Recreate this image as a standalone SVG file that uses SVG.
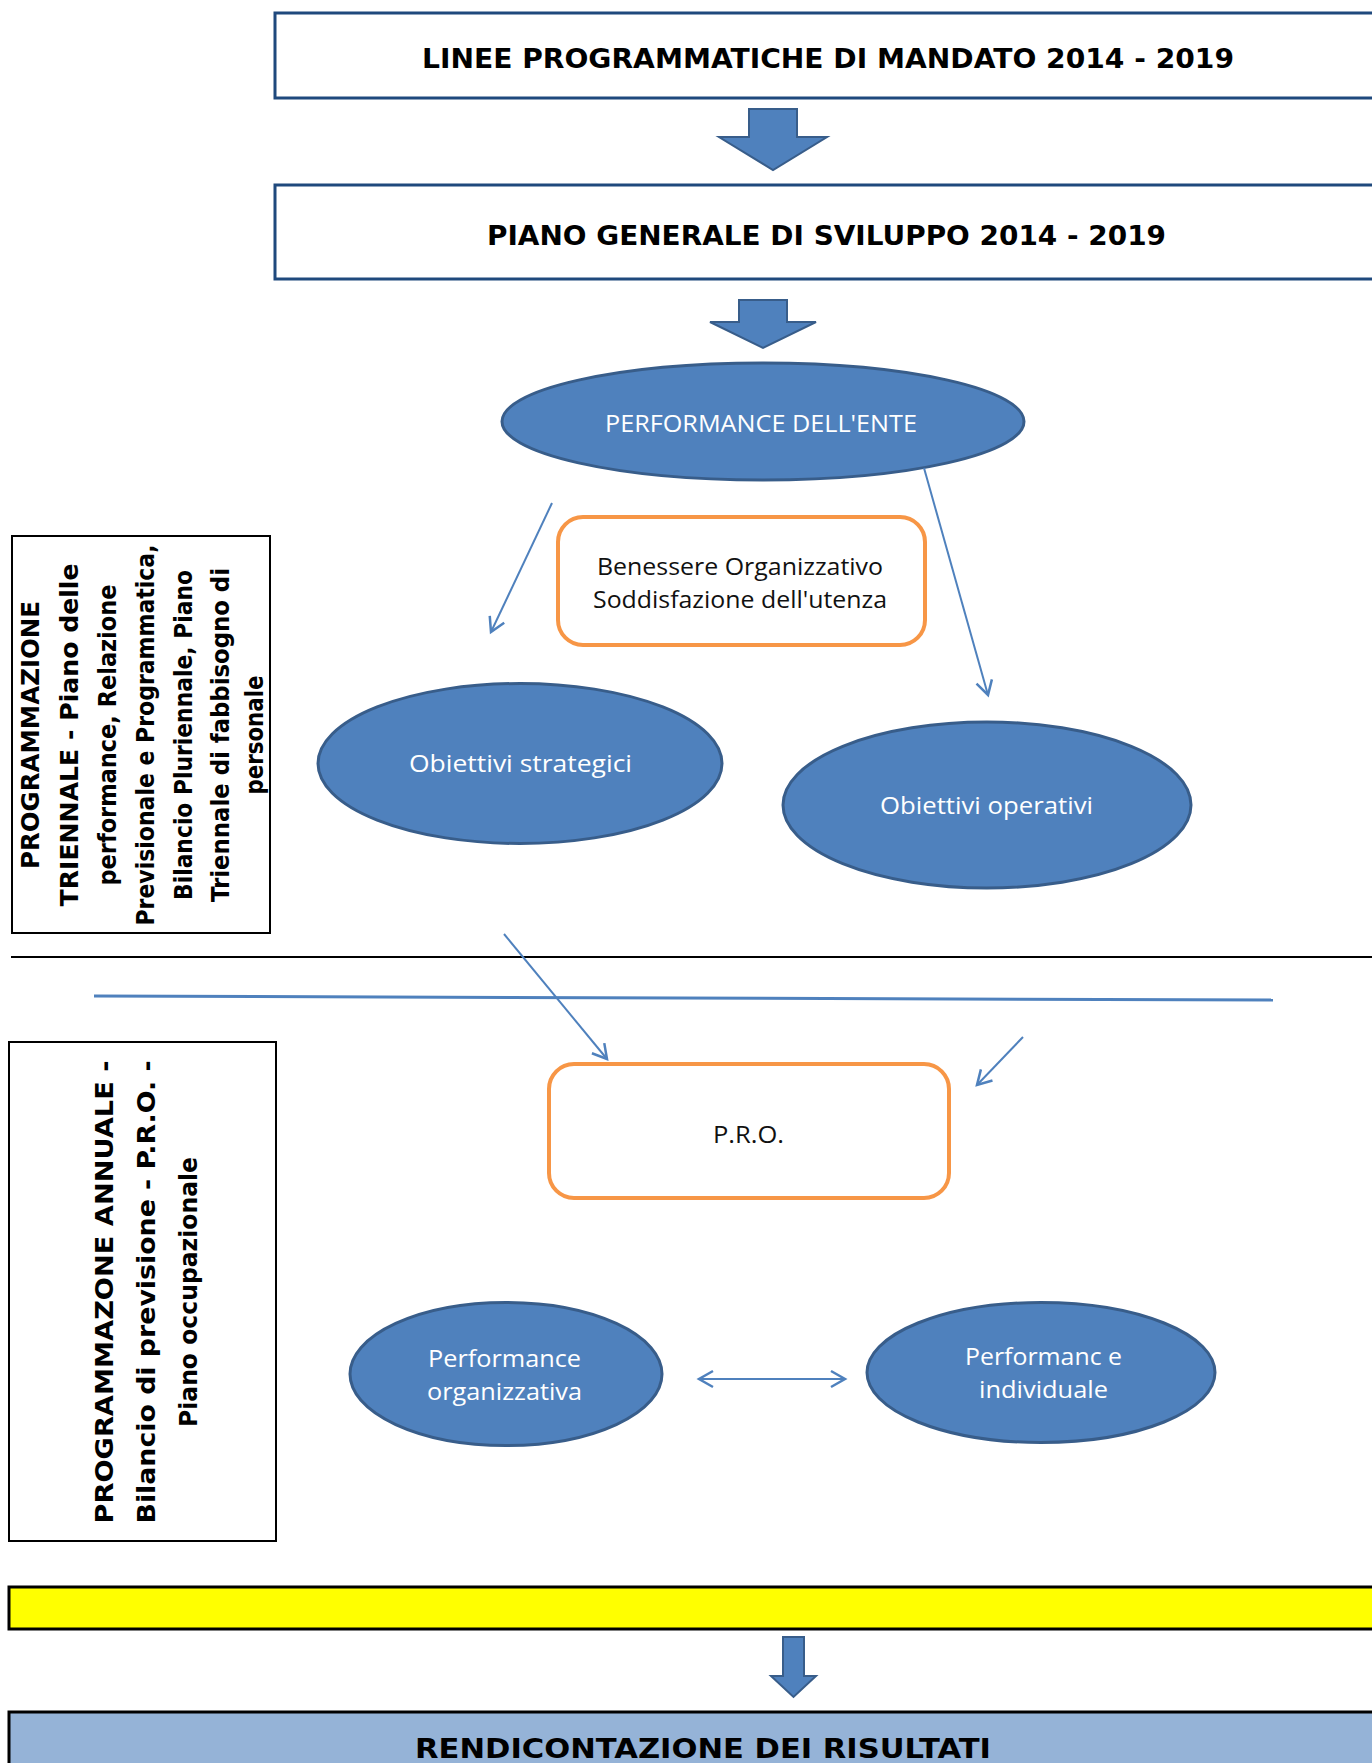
<svg xmlns="http://www.w3.org/2000/svg" width="1372" height="1763" viewBox="0 0 1372 1763">
<style>
.hdr{font-family:"DejaVu Sans","Liberation Sans",sans-serif;font-weight:bold;font-size:26px;fill:#000}
.side{font-family:"DejaVu Sans","Liberation Sans",sans-serif;font-weight:bold;font-size:24px;fill:#000}
.lbl{font-family:"Open Sans","Liberation Sans",sans-serif;font-size:24px;fill:#fff}
.dark{font-family:"Open Sans","Liberation Sans",sans-serif;font-size:24px;fill:#111}
.ell{fill:#4F81BD;stroke:#385D8A;stroke-width:3}
.blk{fill:#4F81BD;stroke:#385D8A;stroke-width:2}
.org{fill:#fff;stroke:#F79646;stroke-width:4}
.conn{fill:none;stroke:#4F81BD;stroke-width:2}
</style>
<defs>
<marker id="ah" markerUnits="userSpaceOnUse" markerWidth="30" markerHeight="30" refX="15" refY="15" orient="auto-start-reverse" viewBox="0 0 30 30">
<path d="M1,7 L15,15 L1,23" fill="none" stroke="#4F81BD" stroke-width="2.5"/>
</marker>
</defs>
<rect width="1372" height="1763" fill="#fff"/>

<g id="box-linee">
<rect x="275" y="13" width="1120" height="85" fill="#fff" stroke="#1F497D" stroke-width="3"/>
<text class="hdr" x="422" y="68" textLength="812" lengthAdjust="spacingAndGlyphs">LINEE PROGRAMMATICHE DI MANDATO 2014 - 2019</text>
</g>
<g id="box-piano">
<rect x="275" y="185" width="1120" height="94" fill="#fff" stroke="#1F497D" stroke-width="3"/>
<text class="hdr" x="487" y="245" textLength="679" lengthAdjust="spacingAndGlyphs">PIANO GENERALE DI SVILUPPO 2014 - 2019</text>
</g>

<g id="ell-ente">
<ellipse class="ell" cx="763" cy="421.5" rx="261" ry="58.5"/>
<text class="lbl" x="605" y="432" textLength="312" lengthAdjust="spacingAndGlyphs">PERFORMANCE DELL'ENTE</text>
</g>
<g id="box-benessere">
<rect class="org" x="558" y="517" width="367" height="128" rx="25"/>
<text class="dark" x="597" y="575" textLength="286" lengthAdjust="spacingAndGlyphs">Benessere Organizzativo</text>
<text class="dark" x="593" y="608" textLength="294" lengthAdjust="spacingAndGlyphs">Soddisfazione dell'utenza</text>
</g>
<g id="ell-strategici">
<ellipse class="ell" cx="520" cy="763.5" rx="202" ry="80"/>
<text class="lbl" x="409" y="772" textLength="223" lengthAdjust="spacingAndGlyphs">Obiettivi  strategici</text>
</g>
<g id="ell-operativi">
<ellipse class="ell" cx="987" cy="805" rx="204" ry="83"/>
<text class="lbl" x="880" y="814" textLength="213" lengthAdjust="spacingAndGlyphs">Obiettivi operativi</text>
</g>

<g id="box-triennale">
<rect x="12" y="536" width="258" height="397" fill="#fff" stroke="#000" stroke-width="2"/>
<g class="side" text-anchor="middle">
<text transform="translate(39,735) rotate(-90)" textLength="268" lengthAdjust="spacingAndGlyphs">PROGRAMMAZIONE</text>
<text transform="translate(78,735) rotate(-90)" textLength="343" lengthAdjust="spacingAndGlyphs">TRIENNALE  - Piano delle</text>
<text transform="translate(116,735) rotate(-90)" textLength="301" lengthAdjust="spacingAndGlyphs">performance, Relazione</text>
<text transform="translate(154,735) rotate(-90)" textLength="381" lengthAdjust="spacingAndGlyphs">Previsionale e Programmatica,</text>
<text transform="translate(192,735) rotate(-90)" textLength="330" lengthAdjust="spacingAndGlyphs">Bilancio Pluriennale, Piano</text>
<text transform="translate(229,735) rotate(-90)" textLength="334" lengthAdjust="spacingAndGlyphs">Triennale di fabbisogno di</text>
<text transform="translate(263,735) rotate(-90)" textLength="119" lengthAdjust="spacingAndGlyphs">personale</text>
</g>
</g>

<g id="box-pro">
<rect class="org" x="549" y="1064" width="400" height="134" rx="25"/>
<text class="dark" x="713" y="1143" textLength="71" lengthAdjust="spacingAndGlyphs">P.R.O.</text>
</g>

<g id="box-annuale">
<rect x="9" y="1042" width="267" height="499" fill="#fff" stroke="#000" stroke-width="2"/>
<g class="side" text-anchor="middle">
<text transform="translate(113,1292) rotate(-90)" textLength="463" lengthAdjust="spacingAndGlyphs">PROGRAMMAZONE ANNUALE -</text>
<text transform="translate(155,1292) rotate(-90)" textLength="463" lengthAdjust="spacingAndGlyphs">Bilancio di previsione - P.R.O. -</text>
<text transform="translate(197,1292) rotate(-90)" textLength="270" lengthAdjust="spacingAndGlyphs">Piano occupazionale</text>
</g>
</g>

<g id="ell-organizzativa">
<ellipse class="ell" cx="506" cy="1374" rx="156" ry="71.5"/>
<text class="lbl" x="428" y="1367" textLength="153" lengthAdjust="spacingAndGlyphs">Performance</text>
<text class="lbl" x="427" y="1400" textLength="155" lengthAdjust="spacingAndGlyphs">organizzativa</text>
</g>
<g id="ell-individuale">
<ellipse class="ell" cx="1041" cy="1372.5" rx="174" ry="70"/>
<text class="lbl" x="965" y="1365" textLength="157" lengthAdjust="spacingAndGlyphs">Performanc e</text>
<text class="lbl" x="979" y="1398" textLength="129" lengthAdjust="spacingAndGlyphs">individuale</text>
</g>

<g id="bar-yellow">
<rect x="9" y="1587" width="1390" height="42" fill="#FFFF00" stroke="#000" stroke-width="3"/>
</g>
<g id="box-rendicontazione">
<rect x="9" y="1712" width="1390" height="100" fill="#95B3D7" stroke="#000" stroke-width="3"/>
<text class="hdr" x="415" y="1758" textLength="576" lengthAdjust="spacingAndGlyphs">RENDICONTAZIONE DEI RISULTATI</text>
</g>

<g id="connectors">
<polygon class="blk" points="749,109 797,109 797,137 827,137 773,170 719,137 749,137"/>
<polygon class="blk" points="739,300 787,300 787,322 816,322 763,348 710,322 739,322"/>
<polygon class="blk" points="783,1637 804,1637 804,1676 816,1676 793.5,1697 771,1676 783,1676"/>
<line x1="11" y1="957" x2="1372" y2="957" stroke="#000" stroke-width="2"/>
<line x1="94" y1="996" x2="1273" y2="1000" stroke="#4F81BD" stroke-width="3"/>
<line class="conn" x1="552" y1="503" x2="491" y2="632" marker-end="url(#ah)"/>
<line class="conn" x1="924" y1="468" x2="988" y2="695" marker-end="url(#ah)"/>
<line class="conn" x1="504" y1="934" x2="607" y2="1059" marker-end="url(#ah)"/>
<line class="conn" x1="1023" y1="1037" x2="977" y2="1085" marker-end="url(#ah)"/>
<line class="conn" x1="699" y1="1379" x2="845" y2="1379" stroke-width="3" marker-start="url(#ah)" marker-end="url(#ah)"/>
</g>
</svg>
